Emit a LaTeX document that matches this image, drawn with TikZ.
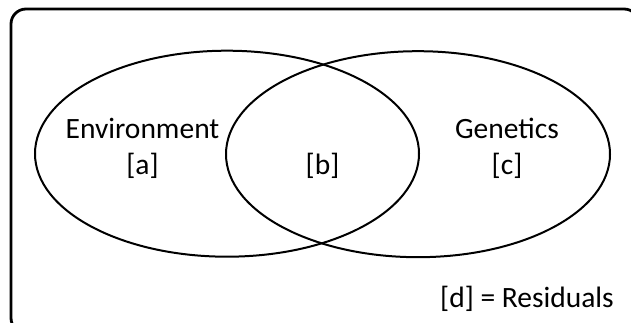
\documentclass[tikz,border=0pt]{standalone}
\usepackage{fontspec}
\setmainfont{Carlito}
\usetikzlibrary{shapes.geometric}
\begin{document}
\begin{tikzpicture}[x=1pt,y=-1pt,
  setring/.style={ellipse, draw, line width=2pt, minimum width=384pt, minimum height=206pt, inner sep=0pt},
  lbl/.style={anchor=base, inner sep=0pt, font=\fontsize{29.5}{35}\selectfont}]
  \useasboundingbox (0,0) rectangle (631,323);
  \clip (0,0) rectangle (631,323);
  % outer frame (runs past the right and bottom edges)
  \draw[line width=2.8pt, rounded corners=15pt] (11,9) rectangle (639,333);
  % the two overlapping sets
  \node[setring] (env) at (227,153.7) {};
  \node[setring] (gen) at (418,154.2) {};
  % labels
  \node[lbl] (envname) at (142.5,139) {Environment};
  \node[lbl] (a) at (142.5,175) {[a]};
  \node[lbl] (b) at (322.5,175) {[b]};
  \node[lbl] (genname) at (507,139) {Genetics};
  \node[lbl] (c) at (507,175) {[c]};
  \node[lbl] (d) at (527,307) {[d] = Residuals};
\end{tikzpicture}
\end{document}
